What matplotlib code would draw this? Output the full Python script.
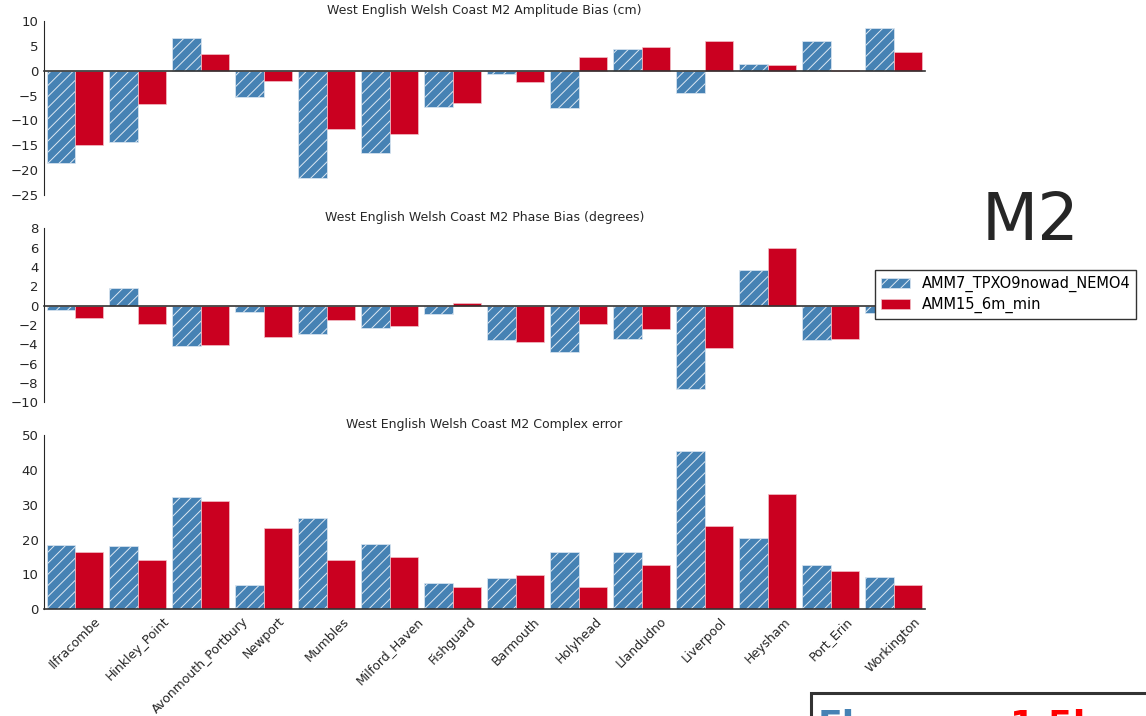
import numpy as np
import matplotlib
matplotlib.use('Agg')
import matplotlib.pyplot as plt
from matplotlib.patches import Rectangle

stations = ['Ilfracombe', 'Hinkley_Point', 'Avonmouth_Portbury', 'Newport', 'Mumbles',
            'Milford_Haven', 'Fishguard', 'Barmouth', 'Holyhead', 'Llandudno',
            'Liverpool', 'Heysham', 'Port_Erin', 'Workington']
run_names = ['AMM7_TPXO9nowad_NEMO4', 'AMM15_6m_min']

# amplitude bias (cm)
amp_amm7 = [-18.5, -14.4, 6.6, -5.3, -21.5, -16.6, -7.3, -0.7, -7.4, 4.4, -4.4, 1.4, 6.0, 8.6]
amp_amm15 = [-15.0, -6.6, 3.4, -2.0, -11.7, -12.7, -6.4, -2.3, 2.8, 4.8, 6.0, 1.2, 0.2, 3.8]
# phase bias (degrees)
pha_amm7 = [-0.5, 1.8, -4.2, -0.65, -2.9, -2.3, -0.9, -3.55, -4.75, -3.4, -8.6, 3.7, -3.55, -0.75]
pha_amm15 = [-1.3, -1.9, -4.1, -3.2, -1.5, -2.1, 0.3, -3.75, -1.95, -2.45, -4.35, 6.0, -3.45, 0.5]
# complex error
cpx_amm7 = [18.4, 18.2, 32.1, 6.9, 26.2, 18.6, 7.45, 9.0, 16.3, 16.3, 45.4, 20.5, 12.7, 9.3]
cpx_amm15 = [16.5, 14.0, 31.1, 23.2, 14.0, 14.9, 6.4, 9.8, 6.4, 12.6, 23.9, 33.0, 10.9, 7.0]

BLUE = '#4682b4'
RED = '#ca0020'
W, H = 1146, 716

plt.rcParams['font.family'] = 'DejaVu Sans'
plt.rcParams['hatch.linewidth'] = 0.7

fig = plt.figure(figsize=(W / 100, H / 100), dpi=100)

left = 44 / W
width = (925 - 44) / W


def make_axes(top_px, bottom_px):
    return fig.add_axes([left, (H - bottom_px) / H, width, (bottom_px - top_px) / H])


ax1 = make_axes(21, 195)
ax2 = make_axes(228.3, 402.3)
ax3 = make_axes(435, 609.3)

ind = np.arange(len(stations))
bw = 0.45

panels = [
    (ax1, amp_amm7, amp_amm15, 'West English Welsh Coast M2 Amplitude Bias (cm)', (-25, 10), 5),
    (ax2, pha_amm7, pha_amm15, 'West English Welsh Coast M2 Phase Bias (degrees)', (-10, 8), 2),
    (ax3, cpx_amm7, cpx_amm15, 'West English Welsh Coast M2 Complex error', (0, 50), 10),
]

for ax, v7, v15, title, ylim, step in panels:
    ax.bar(ind, v7, bw, align='edge', color=BLUE, edgecolor='#dde8f2', linewidth=0.5,
           hatch='///', label=run_names[0])
    ax.bar(ind + bw, v15, bw, align='edge', color=RED, edgecolor='#f2c0c8', linewidth=0.5,
           label=run_names[1])
    ax.set_xlim(-0.04, 13.95)
    ax.set_ylim(*ylim)
    ax.set_yticks(np.arange(ylim[0], ylim[1] + 0.1, step))
    ax.set_title(title, fontsize=9, pad=5, color='#262626')
    for s in ['top', 'right']:
        ax.spines[s].set_visible(False)
    ax.spines['left'].set_color('#262626')
    ax.spines['bottom'].set_color('#333333')
    ax.spines['bottom'].set_linewidth(1.2)
    ax.spines['bottom'].set_position(('data', 0))
    ax.tick_params(length=0, labelsize=9.5, labelcolor='#262626', pad=4)
    ax.set_xticks(ind + bw)

ax1.tick_params(labelbottom=False)
ax2.tick_params(labelbottom=False)
ax3.set_xticklabels(stations, rotation=45, fontsize=9, ha='center')

ax2.legend(loc='upper left', bbox_to_anchor=(875 / W, 1 - 270 / H),
           bbox_transform=fig.transFigure, borderaxespad=0, fontsize=10.5,
           labelspacing=0.35, fancybox=False, framealpha=1, edgecolor='#333333')

fig.text(1030 / W, 1 - 222 / H, 'M2', fontsize=47, ha='center', va='center', color='#262626')

# neighbouring panel box peeking in at the bottom right
box = Rectangle((811 / W, -0.2), 0.5, (H - 693) / H + 0.2, transform=fig.transFigure,
                fill=False, edgecolor='#333333', linewidth=2.2, clip_on=False)
fig.patches.append(box)
fig.text(818 / W, 1 - 709 / H, 'Fl', fontsize=26, fontweight='bold', color=BLUE, va='top')
fig.text(1010 / W, 1 - 709 / H, '1.5k', fontsize=26, fontweight='bold', color='red', va='top')

fig.savefig('out.png', dpi=100)
